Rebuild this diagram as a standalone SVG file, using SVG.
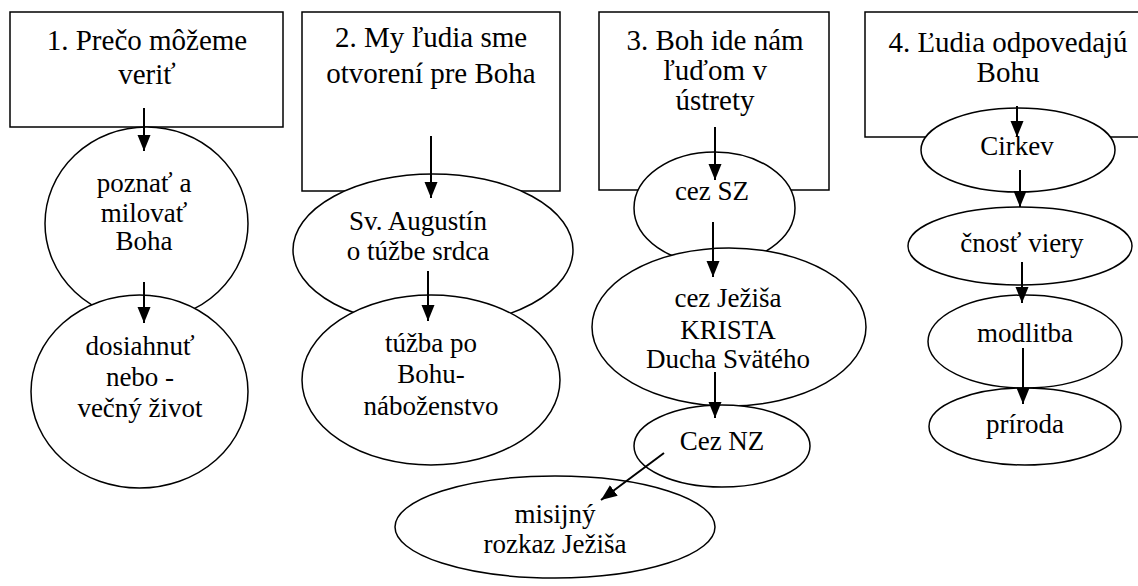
<svg xmlns="http://www.w3.org/2000/svg" width="1138" height="586" viewBox="0 0 1138 586">
<defs>
<marker id="ah" markerUnits="userSpaceOnUse" markerWidth="17" markerHeight="14" refX="16" refY="6.5" orient="auto">
<path d="M0,0 L16,6.5 L0,13 z" fill="#000"/>
</marker>
<style>
.box{fill:#fff;stroke:#000;stroke-width:1.5}
.el{fill:#fff;stroke:#000;stroke-width:1.5}
text{font-family:'Liberation Serif','Times New Roman',serif;font-size:27px;fill:#000;text-anchor:middle}
text.h{font-size:29px}
.c{stroke:#000;stroke-width:2;fill:none;marker-end:url(#ah)}
</style>
</defs>
<rect width="1138" height="586" fill="#fff"/>
<g id="n1">
<rect class="box" x="10" y="12" width="273" height="115"/>
<text class="h" x="147" y="50">1. Prečo môžeme</text>
<text class="h" x="147" y="84">veriť</text>
</g>
<g id="n1a">
<ellipse class="el" cx="146.5" cy="223.5" rx="101.5" ry="96.5"/>
<text x="144" y="192">poznať a</text>
<text x="144" y="222">milovať</text>
<text x="144" y="250">Boha</text>
</g>
<g id="n1b">
<ellipse class="el" cx="139.5" cy="391.5" rx="108.5" ry="96.5"/>
<text x="140" y="355">dosiahnuť</text>
<text x="140" y="386">nebo -</text>
<text x="140" y="417">večný život</text>
</g>
<g id="n2">
<rect class="box" x="302" y="12" width="258" height="179"/>
<text class="h" x="431" y="47">2. My ľudia sme</text>
<text class="h" x="431" y="83">otvorení pre Boha</text>
</g>
<g id="n2a">
<ellipse class="el" cx="433" cy="250" rx="140" ry="76"/>
<text x="418" y="230">Sv. Augustín</text>
<text x="418" y="260">o túžbe srdca</text>
</g>
<g id="n2b">
<ellipse class="el" cx="431" cy="380" rx="129" ry="85"/>
<text x="431" y="352">túžba po</text>
<text x="431" y="383">Bohu-</text>
<text x="431" y="415">náboženstvo</text>
</g>
<g id="n3">
<rect class="box" x="599" y="12" width="230" height="178"/>
<text class="h" x="715" y="50">3. Boh ide nám</text>
<text class="h" x="715" y="80">ľuďom v</text>
<text class="h" x="715" y="110">ústrety</text>
</g>
<g id="n3a">
<ellipse class="el" cx="714.5" cy="208" rx="80.5" ry="56"/>
<text x="712" y="200">cez SZ</text>
</g>
<g id="n3b">
<ellipse class="el" cx="729" cy="327" rx="137" ry="79"/>
<text x="728" y="307">cez Ježiša</text>
<text x="728" y="339">KRISTA</text>
<text x="728" y="368">Ducha Svätého</text>
</g>
<g id="n3c">
<ellipse class="el" cx="722" cy="446" rx="88" ry="41"/>
<text x="722" y="450">Cez NZ</text>
</g>
<g id="n3d">
<ellipse class="el" cx="555" cy="527" rx="160" ry="51"/>
<text x="555" y="523">misijný</text>
<text x="555" y="553">rozkaz Ježiša</text>
</g>
<g id="n4">
<rect class="box" x="865" y="12" width="290" height="125"/>
<text class="h" x="1008" y="52">4. Ľudia odpovedajú</text>
<text class="h" x="1008" y="82">Bohu</text>
</g>
<g id="n4a">
<ellipse class="el" cx="1018" cy="150" rx="97" ry="42"/>
<text x="1017" y="155">Cirkev</text>
</g>
<g id="n4b">
<ellipse class="el" cx="1020" cy="246" rx="112" ry="39"/>
<text x="1022" y="252">čnosť viery</text>
</g>
<g id="n4c">
<ellipse class="el" cx="1025" cy="341.5" rx="97" ry="46.5"/>
<text x="1025" y="342">modlitba</text>
</g>
<g id="n4d">
<ellipse class="el" cx="1025" cy="426.5" rx="96" ry="38.5"/>
<text x="1025" y="433">príroda</text>
</g>
<g id="connectors">
<line class="c" x1="144" y1="108" x2="144" y2="151"/>
<line class="c" x1="144" y1="282" x2="144" y2="323"/>
<line class="c" x1="431" y1="136" x2="431" y2="198"/>
<line class="c" x1="428" y1="271" x2="428" y2="321"/>
<line class="c" x1="715" y1="127" x2="715" y2="180"/>
<line class="c" x1="713" y1="222" x2="713" y2="277"/>
<line class="c" x1="715" y1="372" x2="715" y2="418"/>
<line class="c" x1="664" y1="453" x2="601" y2="500"/>
<line class="c" x1="1017" y1="106" x2="1017" y2="137"/>
<line class="c" x1="1020" y1="170" x2="1020" y2="207"/>
<line class="c" x1="1022" y1="262" x2="1022" y2="303"/>
<line class="c" x1="1023" y1="348" x2="1023" y2="404"/>
</g>
</svg>
